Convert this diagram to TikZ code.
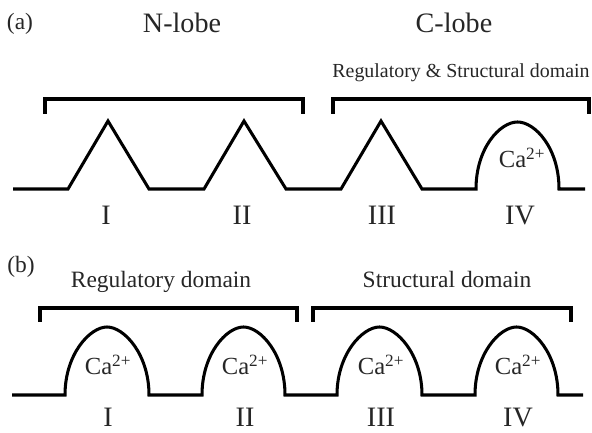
\documentclass[tikz,border=0pt]{standalone}
\usepackage{fontspec}
\setmainfont{Liberation Serif}
\usepackage{tikz}

\begin{document}
\begin{tikzpicture}[x=0.03cm, y=-0.03cm,
    lobe/.style={line width=2.6pt, line join=miter, black},
    txt/.style={inner sep=0pt, anchor=base, text=black!85},
    big/.style={txt, font=\fontsize{24}{28}\selectfont},
    dom/.style={txt, font=\fontsize{20}{24}\selectfont},
    domS/.style={txt, font=\fontsize{17}{20}\selectfont},
    ion/.style={txt, font=\fontsize{21}{25}\selectfont},
    tag/.style={txt, font=\fontsize{20}{24}\selectfont},
]
\useasboundingbox (0,0) rectangle (592,433);

% ---- (a) : lobes ----
\node[tag] (tagA) at (20,30) {(a)};
\node[big] (nlobe) at (182,32.5) {N-lobe};
\node[big] (clobe) at (454,32.5) {C-lobe};
\node[domS] (domA) at (461,78) {Regulatory \& Structural domain};

\draw[lobe] (45,114) -- (45,99) -- (303,99) -- (303,114);
\draw[lobe] (333,114) -- (333,99) -- (589,99) -- (589,114);

\draw[lobe] (13,189) -- (68,189) -- (108,121) -- (149,189)
    -- (204,189) -- (244,121) -- (286,189)
    -- (341,189) -- (381,121) -- (422,189)
    -- (476,189) .. controls (476,148) and (500,122) .. (517.5,122)
    .. controls (535,122) and (559,148) .. (559,189) -- (585,189);
\node[ion] (ionA4) at (522,168) {Ca\textsuperscript{2+}};

\foreach \i/\lab/\xx in {1/I/106, 2/II/242, 3/III/382, 4/IV/520} {
    \node[big] (numA\i) at (\xx,225) {\lab};
}

% ---- (b) : domaines ----
\node[tag] (tagB) at (21,273) {(b)};
\node[dom] (domB1) at (161,288) {Regulatory domain};
\node[dom] (domB2) at (447,288) {Structural domain};

\draw[lobe] (40,322) -- (40,308) -- (297,308) -- (297,322);
\draw[lobe] (313,322) -- (313,308) -- (571,308) -- (571,322);

\draw[lobe] (12,395)
    \foreach \a/\b in {65/149, 202/285, 337/422, 475/558} {
        -- (\a,395) .. controls (\a,354) and ({(\a+\b)/2-17},327) .. ({(\a+\b)/2},327)
        .. controls ({(\a+\b)/2+17},327) and (\b,354) .. (\b,395)
    } -- (583,395);

\foreach \i/\lab/\xx in {1/I/108, 2/II/245, 3/III/381, 4/IV/518} {
    \node[ion] (ionB\i) at (\xx,375) {Ca\textsuperscript{2+}};
    \node[big] (numB\i) at (\xx,426) {\lab};
}

\end{tikzpicture}
\end{document}
